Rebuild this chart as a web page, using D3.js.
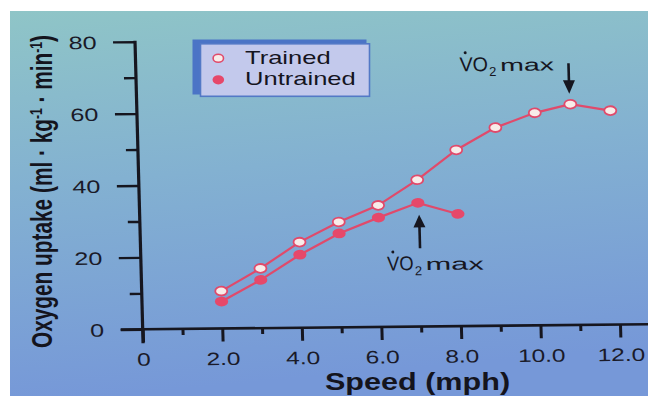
<!DOCTYPE html>
<html>
<head>
<meta charset="utf-8">
<script src="https://cdn.jsdelivr.net/npm/d3@7"></script>
<style>
  html, body { margin: 0; padding: 0; background: #ffffff; }
  svg { display: block; font-family: "Liberation Sans", Arial, Helvetica, sans-serif; }
</style>
</head>
<body>
<svg id="chart" width="648" height="396"></svg>
<script>
// Oxygen uptake vs running speed, trained vs untrained runners
const seriesNames = ["Trained", "Untrained"];
const speedTrained = [2, 3, 4, 5, 6, 7, 8, 9, 10, 10.9, 11.9];
const vo2Trained = [10.4, 16.6, 23.8, 29.3, 33.8, 40.8, 49.0, 55.1, 59.1, 61.4, 59.5];
const speedUntrained = [2, 3, 4, 5, 6, 7, 8];
const vo2Untrained = [7.5, 13.4, 20.3, 26.1, 30.4, 34.4, 31.2];
const yMajorTicks = [0, 20, 40, 60, 80];
const yMinorTicks = [10, 30, 50, 70];
const xMajorTicks = [0, 2, 4, 6, 8, 10, 12];
const xMinorTicks = [1, 3, 5, 7, 9, 11];
const xTitle = "Speed (mph)";
const annotationText = ["V", "O", "2", "max"];

const ink = "#16161f";
const pink = "#e04a6b";
const trainedFill = "#f8ece9";
const untrainedFill = "#e6486a";

const svg = d3.select("#chart");

// backdrop
const defs = svg.append("defs");
const grad = defs.append("linearGradient").attr("id", "bg")
  .attr("x1", 0).attr("y1", 0).attr("x2", 0.15).attr("y2", 1);
grad.append("stop").attr("offset", "0%").attr("stop-color", "#8fc5c7");
grad.append("stop").attr("offset", "45%").attr("stop-color", "#83b1d1");
grad.append("stop").attr("offset", "100%").attr("stop-color", "#7698d8");
svg.append("rect").attr("width", 648).attr("height", 396).attr("fill", "#ffffff");
svg.append("rect").attr("x", 10).attr("y", 11).attr("width", 638).attr("height", 385)
  .attr("fill", "url(#bg)");

// scales
const x = d3.scaleLinear().domain([0, 12]).range([0, 477.3]);
const y = d3.scaleLinear().domain([0, 80]).range([0, -287.6]);

// plot frame (slightly sheared, as printed)
const plot = svg.append("g")
  .attr("transform", "matrix(1,-0.01006,0.0267,1,142.7,329.3)");

// y axis
const yMajor = plot.append("g").attr("color", ink)
  .call(d3.axisLeft(y).tickValues(yMajorTicks).tickSize(22).tickSizeOuter(0));
yMajor.select(".domain").remove();
yMajor.selectAll("line").attr("stroke-width", 2.4);
yMajor.selectAll("text")
  .attr("x", -27.5).attr("dy", "0.36em")
  .attr("transform", "scale(1.4,1)")
  .attr("font-size", 18).attr("font-family", "Liberation Sans, Arial, sans-serif")
  .attr("fill", "#1a1a28");

const yMinor = plot.append("g").attr("color", ink)
  .call(d3.axisLeft(y).tickValues(yMinorTicks).tickSize(12).tickFormat(""));
yMinor.select(".domain").remove();
yMinor.selectAll("line").attr("stroke-width", 2.4);

// x axis
const xMajor = plot.append("g").attr("color", ink)
  .call(d3.axisBottom(x).tickValues(xMajorTicks).tickSize(13)
    .tickFormat(d => d === 0 ? "0" : d.toFixed(1)));
xMajor.select(".domain").remove();
xMajor.selectAll("line").attr("stroke-width", 3);
xMajor.selectAll("text")
  .attr("y", 36.5).attr("dy", 0)
  .attr("transform", "scale(1.36,1)")
  .attr("font-size", 18).attr("font-family", "Liberation Sans, Arial, sans-serif")
  .attr("fill", "#1a1a28");

const xMinor = plot.append("g").attr("color", ink)
  .call(d3.axisBottom(x).tickValues(xMinorTicks).tickSize(6).tickFormat(""));
xMinor.select(".domain").remove();
xMinor.selectAll("line").attr("stroke-width", 3);

// axis lines (crossing at the origin)
plot.append("line")
  .attr("x1", x(0)).attr("x2", x(0))
  .attr("y1", y(80) - 1).attr("y2", y(0) + 14)
  .attr("stroke", ink).attr("stroke-width", 3.2);
plot.append("line")
  .attr("x1", x(0) - 22).attr("x2", x(12) + 40)
  .attr("y1", y(0)).attr("y2", y(0))
  .attr("stroke", ink).attr("stroke-width", 2.6);

// series
const trained = speedTrained.map((s, i) => ({ speed: s, vo2: vo2Trained[i] }));
const untrained = speedUntrained.map((s, i) => ({ speed: s, vo2: vo2Untrained[i] }));
const line = d3.line().x(d => x(d.speed)).y(d => y(d.vo2));

plot.append("path").datum(untrained).attr("d", line)
  .attr("fill", "none").attr("stroke", pink).attr("stroke-width", 2.2);
plot.append("path").datum(trained).attr("d", line)
  .attr("fill", "none").attr("stroke", pink).attr("stroke-width", 2.2);

plot.selectAll(".pt-u").data(untrained).join("ellipse").attr("class", "pt-u")
  .attr("cx", d => x(d.speed)).attr("cy", d => y(d.vo2))
  .attr("rx", 6.6).attr("ry", 4.9)
  .attr("fill", untrainedFill);
plot.selectAll(".pt-t").data(trained).join("ellipse").attr("class", "pt-t")
  .attr("cx", d => x(d.speed)).attr("cy", d => y(d.vo2))
  .attr("rx", 6).attr("ry", 4.4)
  .attr("fill", trainedFill).attr("stroke", pink).attr("stroke-width", 1.8);

// VO2 max annotations
function vo2maxLabel(g, ox, oy, vw, maxW) {
  g.append("text").attr("x", ox).attr("y", oy)
    .attr("font-size", 20).attr("fill", ink)
    .attr("textLength", vw).attr("lengthAdjust", "spacingAndGlyphs")
    .text(annotationText[0] + annotationText[1]);
  g.append("text").attr("x", ox + vw + 1).attr("y", oy + 5)
    .attr("font-size", 13).attr("fill", ink)
    .text(annotationText[2]);
  g.append("text").attr("x", ox + vw + 12).attr("y", oy)
    .attr("font-size", 17).attr("fill", ink)
    .attr("textLength", maxW).attr("lengthAdjust", "spacingAndGlyphs")
    .text(annotationText[3]);
  g.append("circle").attr("cx", ox + 6).attr("cy", oy - 18.5).attr("r", 1.5).attr("fill", ink);
}

const peakT = trained.reduce((a, b) => (b.vo2 > a.vo2 ? b : a));
const peakU = untrained.reduce((a, b) => (b.vo2 > a.vo2 ? b : a));

// trained peak: arrow pointing down
const aT = plot.append("g")
  .attr("transform", `translate(${x(peakT.speed) - 0.8},${y(peakT.vo2)})`);
aT.append("line").attr("x1", 0).attr("x2", 0).attr("y1", -41).attr("y2", -22)
  .attr("stroke", ink).attr("stroke-width", 2.6);
aT.append("path").attr("d", "M-6,-24 L6,-24 L0,-10.5 Z").attr("fill", ink);
vo2maxLabel(aT, -109, -34, 28.5, 54);

// untrained peak: arrow pointing up
const aU = plot.append("g")
  .attr("transform", `translate(${x(peakU.speed) + 1},${y(peakU.vo2)})`);
aU.append("line").attr("x1", 0).attr("x2", 0).attr("y1", 45.5).attr("y2", 22)
  .attr("stroke", ink).attr("stroke-width", 2.6);
aU.append("path").attr("d", "M-6,24.5 L6,24.5 L0,12 Z").attr("fill", ink);
vo2maxLabel(aU, -33.3, 67.3, 26.5, 58);

// axis titles
svg.append("text")
  .attr("transform", "translate(417.5,390) scale(1.33,1)")
  .attr("text-anchor", "middle").attr("font-size", 23).attr("font-weight", "bold")
  .attr("fill", "#14141d")
  .text(xTitle);

const yt = svg.append("text")
  .attr("transform", "translate(51.5,191.5) scale(1.4,1) rotate(-90)")
  .attr("text-anchor", "middle").attr("font-size", 20.5).attr("font-weight", "bold")
  .attr("fill", "#14141d")
  .attr("textLength", 313).attr("lengthAdjust", "spacingAndGlyphs");
yt.append("tspan").text("Oxygen uptake (ml \u00B7 kg");
yt.append("tspan").attr("font-size", 12).attr("baseline-shift", "55%").text("-1");
yt.append("tspan").text(" \u00B7 min");
yt.append("tspan").attr("font-size", 12).attr("baseline-shift", "55%").text("-1");
yt.append("tspan").text(")");

// legend
const legend = svg.append("g");
legend.append("rect").attr("x", 192.5).attr("y", 39.5).attr("width", 174).attr("height", 55)
  .attr("fill", "#4b74c6");
legend.append("rect").attr("x", 200.5).attr("y", 43.8).attr("width", 169).attr("height", 52.5)
  .attr("fill", "#c3c9ec").attr("stroke", "#5379c6").attr("stroke-width", 1.6);
const items = legend.selectAll(".item").data(seriesNames).join("g")
  .attr("class", "item")
  .attr("transform", (d, i) => `translate(0,${i * 21.5})`);
items.append("ellipse").attr("cx", 218.3).attr("cy", 58.3)
  .attr("rx", (d, i) => i === 0 ? 5.2 : 5.8).attr("ry", (d, i) => i === 0 ? 4 : 4.6)
  .attr("fill", (d, i) => i === 0 ? trainedFill : untrainedFill)
  .attr("stroke", (d, i) => i === 0 ? pink : "none").attr("stroke-width", 1.6);
items.append("text")
  .attr("transform", "translate(245,63.8) scale(1.42,1)")
  .attr("font-size", 18).attr("fill", "#15151f")
  .text(d => d);
</script>
</body>
</html>
